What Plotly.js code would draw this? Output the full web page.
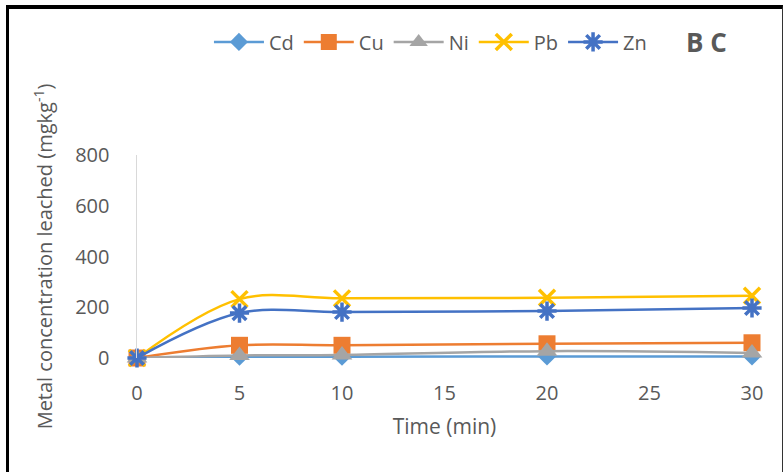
<!DOCTYPE html>
<html>
<head>
<meta charset="utf-8">
<script src="https://cdn.plot.ly/plotly-3.0.1.min.js"></script>
<style>
  html, body { margin: 0; padding: 0; background: #fff; }
  #wrap { position: relative; width: 783px; height: 472px; overflow: hidden; }
  #chart { position: absolute; left: 0; top: 0; width: 783px; height: 472px; }
  #frame { position: absolute; left: 6px; top: 5px; width: 773px; height: 463px;
           border-left: 3px solid #000; border-top: 4px solid #000;
           border-right: 1px solid #333; border-bottom: 2px solid #333; pointer-events: none; }
</style>
</head>
<body>
<div id="wrap">
  <div id="chart"></div>
  <div id="frame"></div>
</div>
<script>
const time = [0, 5, 10, 20, 30];
const cd = [0, 5, 5, 6, 6];
const cu = [0, 50, 50, 56, 60];
const ni = [0, 10, 12, 27, 20];
const pb = [0, 232, 235, 237, 245];
const zn = [0, 177, 181, 185, 197];
const xTicks = [0, 5, 10, 15, 20, 25, 30];
const yTicks = [0, 200, 400, 600, 800];

const font = "Open Sans, Noto Sans, sans-serif";
function tr(name, y, color, symbol, size) {
  return {
    type: 'scatter', mode: 'lines+markers', name: name, x: time, y: y, cliponaxis: false,
    line: {color: color, width: 2.5, shape: 'spline', smoothing: 1},
    marker: {symbol: symbol, size: size, color: color}
  };
}
const data = [
  tr('Cd', cd, '#5B9BD5', 'diamond', 14),
  tr('Cu', cu, '#ED7D31', 'square', 17),
  tr('Ni', ni, '#A5A5A5', 'triangle-up', 18),
  tr('Pb', pb, '#FFC000', 'x-thin-open', 16),
  tr('Zn', zn, '#4472C4', 'asterisk-open', 16),
];
data[3].marker.line = {color: '#FFC000', width: 3.5};
data[4].marker.line = {color: '#4472C4', width: 3.5};

const layout = {
  width: 783, height: 472,
  margin: {l: 137, r: 31, t: 155, b: 114},
  paper_bgcolor: '#fff', plot_bgcolor: '#fff',
  font: {family: font, color: '#595959', size: 21},
  showlegend: true,
  legend: {orientation: 'h', x: 0.117, xanchor: 'left', y: 1.557, yanchor: 'middle',
           font: {size: 20, color: '#595959'}, traceorder: 'normal', itemwidth: 50},
  xaxis: {
    range: [0, 30], tickvals: xTicks, ticktext: xTicks.map(String),
    showgrid: false, zeroline: false, showline: false, ticks: '', ticklabelstandoff: 21,
    tickfont: {size: 20, color: '#595959'},
    title: {text: 'Time (min)', font: {size: 21, color: '#595959'}, standoff: 14}
  },
  yaxis: {
    range: [0, 800], tickvals: yTicks, ticktext: yTicks.map(String),
    showgrid: false, zeroline: false, showline: true, linecolor: '#D9D9D9', linewidth: 1.5,
    ticks: '', ticklabelstandoff: 22,
    tickfont: {size: 20, color: '#595959'},
    title: {text: 'Metal concentration leached (mgkg<sup>-1</sup>)', font: {size: 20, color: '#595959'}, standoff: 17}
  },
  annotations: [{
    text: '<b>B C</b>', xref: 'paper', yref: 'paper', x: 0.926, y: 1.557,
    xanchor: 'center', yanchor: 'middle', showarrow: false,
    font: {size: 26, color: '#595959', family: font}
  }]
};
Plotly.newPlot('chart', data, layout, {displayModeBar: false, staticPlot: true});
</script>
</body>
</html>
